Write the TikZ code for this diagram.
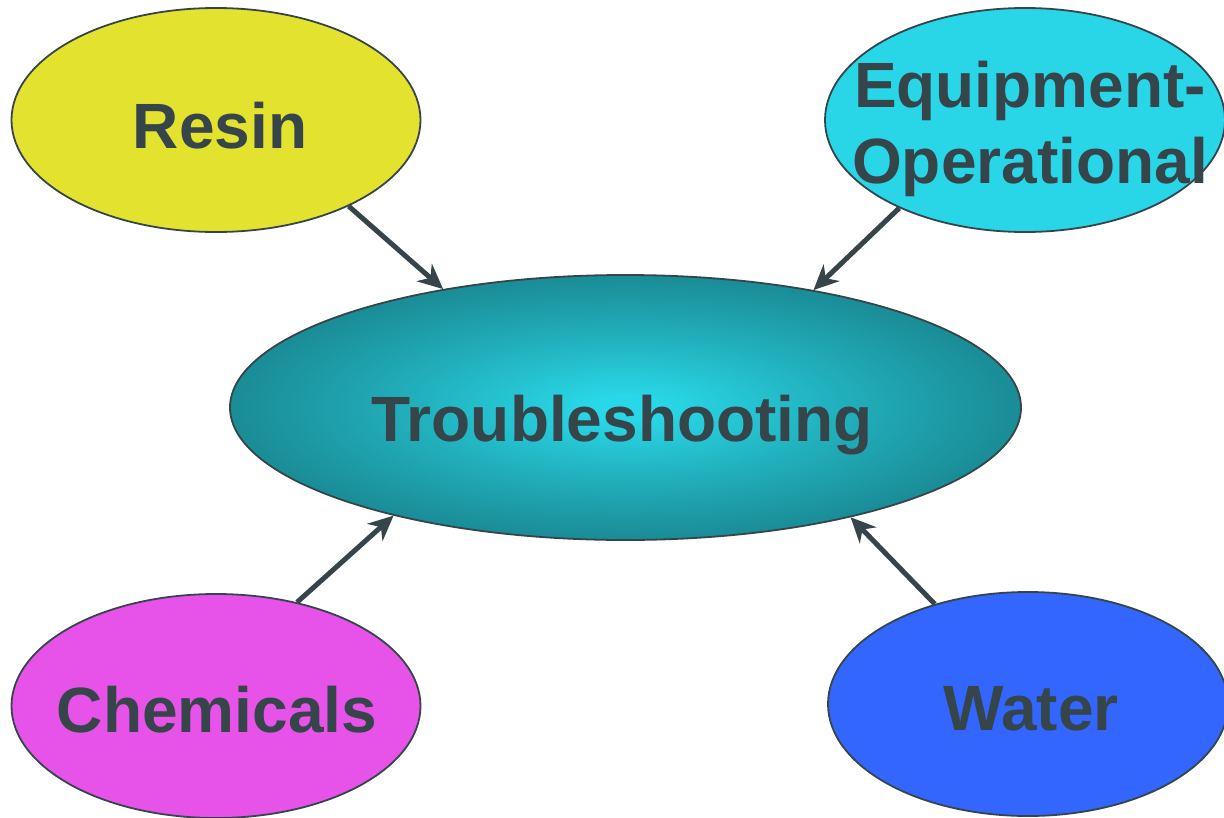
\documentclass[tikz,border=0pt]{standalone}
\usepackage{fontspec}
\setmainfont{Liberation Sans}
\usetikzlibrary{shapes.geometric,arrows.meta}
\definecolor{ink}{HTML}{35454A}
\definecolor{resinfill}{HTML}{E3E22F}
\definecolor{equipfill}{HTML}{29D6E8}
\definecolor{chemfill}{HTML}{E752E8}
\definecolor{waterfill}{HTML}{3366FF}
\definecolor{glowin}{HTML}{29D8E8}
\definecolor{glowmid}{HTML}{22B1BE}
\definecolor{glowout}{HTML}{1A8C96}
% radial glow; the node's bounding box maps onto the central 50bp square
\pgfdeclareradialshading{glow}{\pgfpoint{0bp}{0bp}}{%
  color(0bp)=(glowin); color(2bp)=(glowin); color(13bp)=(glowmid); color(25bp)=(glowout); color(50bp)=(glowout)}
\tikzset{
  bubble/.style={ellipse, draw=ink, line width=1.8pt, inner sep=0pt},
  lbl/.style={font=\fontsize{64}{76}\selectfont\bfseries, text=ink, anchor=base, align=center, inner sep=0pt},
  feed/.style={draw=ink, line width=5pt, -{Stealth[length=25pt, width=23pt, inset=8pt]}}
}
\begin{document}
\begin{tikzpicture}[x=1pt, y=-1pt]
\useasboundingbox (0,0) rectangle (1224,817);
% outer topic bubbles
\node[bubble, fill=resinfill, minimum width=409pt, minimum height=224pt] (resin) at (216,120) {};
\node[bubble, fill=equipfill, minimum width=400pt, minimum height=224pt] (equip) at (1025,120) {};
\node[bubble, fill=chemfill, minimum width=409pt, minimum height=224pt] (chem) at (216,706) {};
\node[bubble, fill=waterfill, minimum width=400pt, minimum height=224pt] (water) at (1028,704) {};
% central bubble with radial glow
\node[bubble, shading=glow, minimum width=791pt, minimum height=265pt] (trouble) at (625.5,407.5) {};
% labels
\node[lbl] (resin-t) at (220,148) {Resin};
\node[lbl] (equip-t1) at (1030,107) {Equipment-};
\node[lbl] (equip-t2) at (1030,183) {Operational};
\node[lbl] (chem-t) at (217,732) {Chemicals};
\node[lbl] (water-t) at (1031,730) {Water};
\node[lbl] (trouble-t) at (622,441) {Troubleshooting};
% connectors into the centre
\draw[feed] (resin.-33.9) -- (trouble.147);
\draw[feed] (equip.215.4) -- (trouble.32.9);
\draw[feed] (chem.52.2) -- (trouble.205.1);
\draw[feed] (water.133.2) -- (trouble.334.3);
\end{tikzpicture}
\end{document}
